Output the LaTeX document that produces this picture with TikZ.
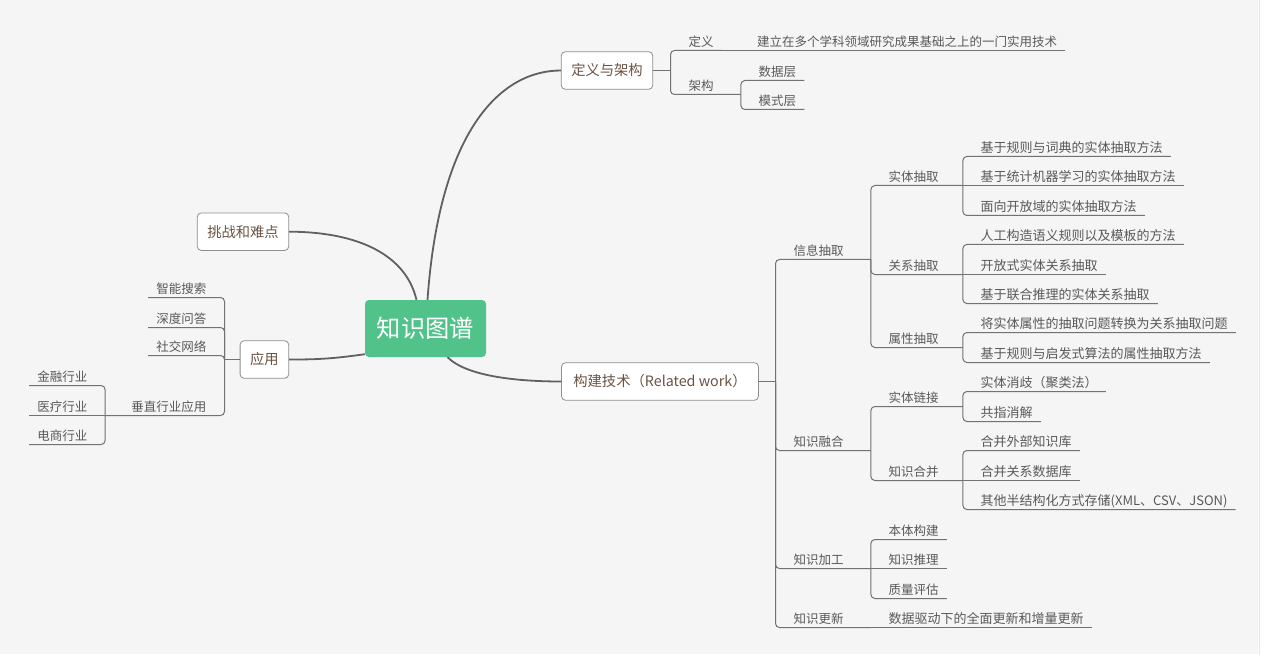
\documentclass[tikz,border=0pt]{standalone}
\usepackage{fontspec}
\usepackage{tikz}
\usetikzlibrary{positioning}
\newfontfamily\cjk{Noto Sans CJK SC}
\definecolor{bggray}{HTML}{F5F5F5}
\definecolor{edgegray}{HTML}{E4E4E4}
\definecolor{rootgreen}{HTML}{50C28A}
\definecolor{boxgray}{HTML}{8E8E8E}
\definecolor{topicbrown}{HTML}{6B5344}
\definecolor{linegray}{HTML}{727272}
\definecolor{trunkgray}{HTML}{606060}
\definecolor{leafgray}{HTML}{595959}
\newcommand\rootfont{\cjk\fontsize{24.3pt}{28pt}\selectfont}
\newcommand\topicfont{\cjk\fontsize{14.3pt}{17pt}\selectfont}
\newcommand\leaffont{\cjk\fontsize{12.5pt}{15pt}\selectfont}
\newcommand\deepfont{\cjk\fontsize{13pt}{15pt}\selectfont}
\tikzset{
  rootnode/.style={fill=rootgreen, text=white, rounded corners=4pt, minimum width=121pt, minimum height=57pt, font=\rootfont},
  topic/.style={draw=boxgray, line width=0.8pt, fill=white, rounded corners=4pt, text=topicbrown, font=\topicfont, inner xsep=10pt, minimum height=37.5pt},
  leaf/.style={anchor=south west, text=leafgray, font=\leaffont, inner xsep=8pt, inner ysep=4pt, text height=10pt, text depth=0pt},
  deep/.style={leaf, font=\deepfont},
  lleaf/.style={leaf, anchor=south east},
  fork/.style={leaf, text width=#1, align=left},
  lfork/.style={lleaf, text width=#1, align=right},
  trunk/.style={draw=trunkgray, line width=1.8pt},
  branch/.style={draw=linegray, line width=1pt, rounded corners=4pt}
}
\begin{document}
\begin{tikzpicture}[x=1pt, y=-1pt]
  \useasboundingbox (0,0) rectangle (1268,660);
  \fill[white] (0,0) rectangle (1268,660);
  \fill[bggray] (0,0) rectangle (1258,654);
  \draw[edgegray, line width=0.8pt] (1259,0) -- (1259,655);

  % central topic and main topics
  \node[rootnode] (root) at (425.5,328.5) {知识图谱};
  \node[topic] (dy) at (607,70.5) {定义与架构};
  \node[topic, minimum width=197pt] (gj) at (660,381.5) {构建技术（Related work）};
  \node[topic] (tz) at (243,231.7) {挑战和难点};
  \node[topic] (yy) at (264.4,359.5) {应用};

  \draw[trunk] ([xshift=2pt]root.north) .. controls +(12,-170) and +(-60,0) .. (dy.west);
  \draw[trunk] ([xshift=-9pt]root.north) .. controls +(-12,-50) and +(60,0) .. (tz.east);
  \draw[trunk] ([yshift=3pt]root.south west) .. controls +(-35,5) and +(25,0) .. (yy.east);
  \draw[trunk] ([xshift=22pt]root.south) .. controls +(20,20) and +(-40,0) .. (gj.west);

  % definition and architecture
  \coordinate (dyb) at (670.5,70.5);
  \draw[branch] (dy.east) -- (dyb);
  \node[leaf] (dy1) at (680.5,50.5) {定义};
  \node[leaf] (dy11) at (749,50.5) {建立在多个学科领域研究成果基础之上的一门实用技术};
  \node[fork=44pt] (dy2) at (680.5,94.5) {架构};
  \node[leaf] (dy21) at (750.5,80.5) {数据层};
  \node[leaf] (dy22) at (750.5,109.5) {模式层};
  \draw[branch] (dyb) |- (dy1.south west) -- (dy1.south east);
  \draw[branch] (dy1.south east) -- (dy11.south west) -- (dy11.south east);
  \draw[branch] (dyb) |- (dy2.south west) -- (dy2.south east);
  \foreach \n in {dy21,dy22}
    \draw[branch] (dy2.south east) |- (\n.south west) -- (\n.south east);

  % construction techniques
  \coordinate (gjb) at (775.5,381.5);
  \draw[branch] (gj.east) -- (gjb);
  \node[fork=69pt] (xx) at (785.5,259.5) {信息抽取};
  \node[fork=69pt] (rh) at (785.5,450.5) {知识融合};
  \node[fork=69pt] (jg) at (785.5,568.5) {知识加工};
  \node[fork=69pt] (gx) at (785.5,627.5) {知识更新};
  \foreach \n in {xx,rh,jg,gx}
    \draw[branch] (gjb) |- (\n.south west) -- (\n.south east);

  \node[fork=66pt] (xx1) at (880.5,185.5) {实体抽取};
  \node[fork=66pt] (xx2) at (880.5,274.5) {关系抽取};
  \node[fork=66pt] (xx3) at (880.5,347.5) {属性抽取};
  \foreach \n in {xx1,xx2,xx3}
    \draw[branch] (xx.south east) |- (\n.south west) -- (\n.south east);

  \node[deep] (xx11) at (972.5,156.5) {基于规则与词典的实体抽取方法};
  \node[deep] (xx12) at (972.5,185.5) {基于统计机器学习的实体抽取方法};
  \node[deep] (xx13) at (972.5,215.5) {面向开放域的实体抽取方法};
  \draw[branch] (xx1.south east) -- (xx12.south west) -- (xx12.south east);
  \foreach \n in {xx11,xx13}
    \draw[branch] (xx1.south east) |- (\n.south west) -- (\n.south east);

  \node[deep] (xx21) at (972.5,244.5) {人工构造语义规则以及模板的方法};
  \node[deep] (xx22) at (972.5,274.5) {开放式实体关系抽取};
  \node[deep] (xx23) at (972.5,303.5) {基于联合推理的实体关系抽取};
  \draw[branch] (xx2.south east) -- (xx22.south west) -- (xx22.south east);
  \foreach \n in {xx21,xx23}
    \draw[branch] (xx2.south east) |- (\n.south west) -- (\n.south east);

  \node[deep] (xx31) at (972.5,332.5) {将实体属性的抽取问题转换为关系抽取问题};
  \node[deep] (xx32) at (972.5,362.5) {基于规则与启发式算法的属性抽取方法};
  \foreach \n in {xx31,xx32}
    \draw[branch] (xx3.south east) |- (\n.south west) -- (\n.south east);

  \node[fork=66pt] (rh1) at (880.5,406.5) {实体链接};
  \node[fork=66pt] (rh2) at (880.5,480.5) {知识合并};
  \foreach \n in {rh1,rh2}
    \draw[branch] (rh.south east) |- (\n.south west) -- (\n.south east);

  \node[deep] (rh11) at (972.5,391.5) {实体消歧（聚类法）};
  \node[deep] (rh12) at (972.5,421.5) {共指消解};
  \foreach \n in {rh11,rh12}
    \draw[branch] (rh1.south east) |- (\n.south west) -- (\n.south east);

  \node[deep] (rh21) at (972.5,450.5) {合并外部知识库};
  \node[deep] (rh22) at (972.5,480.5) {合并关系数据库};
  \node[deep] (rh23) at (972.5,509.5) {其他半结构化方式存储(XML、CSV、JSON)};
  \draw[branch] (rh2.south east) -- (rh22.south west) -- (rh22.south east);
  \foreach \n in {rh21,rh23}
    \draw[branch] (rh2.south east) |- (\n.south west) -- (\n.south east);

  \node[leaf] (jg1) at (880.5,539.5) {本体构建};
  \node[leaf] (jg2) at (880.5,568.5) {知识推理};
  \node[leaf] (jg3) at (880.5,598.5) {质量评估};
  \draw[branch] (jg.south east) -- (jg2.south west) -- (jg2.south east);
  \foreach \n in {jg1,jg3}
    \draw[branch] (jg.south east) |- (\n.south west) -- (\n.south east);

  \node[deep] (gx1) at (880.5,627.5) {数据驱动下的全面更新和增量更新};
  \draw[branch] (gx.south east) -- (gx1.south west) -- (gx1.south east);

  % applications
  \coordinate (yyb) at (224.5,359.5);
  \draw[branch] (yy.west) -- (yyb);
  \node[lleaf] (yy1) at (214.5,297.5) {智能搜索};
  \node[lleaf] (yy2) at (214.5,327.5) {深度问答};
  \node[lleaf] (yy3) at (214.5,355.5) {社交网络};
  \node[lfork=93pt] (yy4) at (214.5,415.5) {垂直行业应用};
  \foreach \n in {yy1,yy2,yy3,yy4}
    \draw[branch] (yyb) |- (\n.south east) -- (\n.south west);

  \node[lleaf] (yy41) at (95.5,385.5) {金融行业};
  \node[lleaf] (yy42) at (95.5,415.5) {医疗行业};
  \node[lleaf] (yy43) at (95.5,444.5) {电商行业};
  \draw[branch] (yy4.south west) -- (yy42.south east) -- (yy42.south west);
  \foreach \n in {yy41,yy43}
    \draw[branch] (yy4.south west) |- (\n.south east) -- (\n.south west);
\end{tikzpicture}
\end{document}
